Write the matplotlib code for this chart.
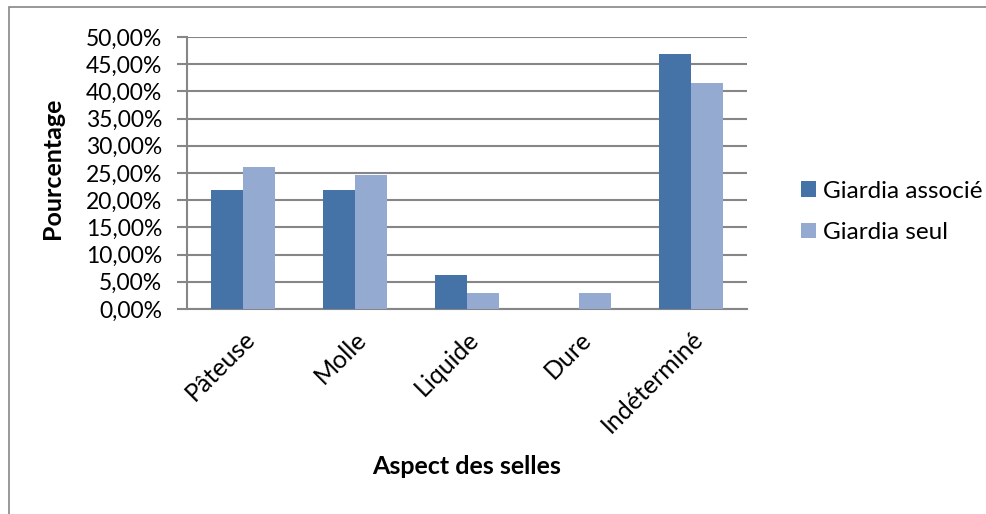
import matplotlib
matplotlib.use("Agg")
import matplotlib.pyplot as plt
import numpy as np
from matplotlib.patches import Rectangle
from matplotlib.ticker import FuncFormatter

categories = ["Pâteuse", "Molle", "Liquide", "Dure", "Indéterminé"]
giardia_associe = [21.88, 21.88, 6.25, 0.0, 46.88]
giardia_seul = [26.1, 24.6, 3.0, 3.0, 41.5]
series_names = ["Giardia associé", "Giardia seul"]
yticks = [0, 5, 10, 15, 20, 25, 30, 35, 40, 45, 50]

plt.rcParams['font.family'] = ['Lato', 'DejaVu Sans']

W, H = 987, 514
fig = plt.figure(figsize=(W/100, H/100), dpi=100)
ax = fig.add_axes([187/W, 1-309/H, (747-187)/W, (309-37)/H])

x = np.arange(len(categories))
bw = 0.286
c1 = "#4573A7"
c2 = "#95AAD1"
ax.bar(x - bw/2, giardia_associe, bw, color=c1, label=series_names[0], zorder=3)
ax.bar(x + bw/2, giardia_seul, bw, color=c2, label=series_names[1], zorder=3)

ax.set_xlim(-0.5, len(categories)-0.5)
ax.set_ylim(0, 50)
ax.set_yticks(yticks)
ax.yaxis.set_major_formatter(FuncFormatter(lambda v, p: f"{v:.2f}%".replace('.', ',')))
ax.grid(axis='y', color='#868686', linewidth=1.5, zorder=0)
for s in ['top', 'right']:
    ax.spines[s].set_visible(False)
for s in ['left', 'bottom']:
    ax.spines[s].set_color('#868686')
    ax.spines[s].set_linewidth(1.5)
ax.tick_params(axis='y', length=7, width=1.5, color='#868686', labelsize=16.5, pad=11)
ax.tick_params(axis='x', length=0, labelsize=18, pad=13)
ax.set_xticks(x)
ax.set_xticklabels(categories, rotation=45, ha='right', rotation_mode='anchor')

fig.text(52/W, 1-168/H, "Pourcentage", fontsize=18, fontweight='bold', ha='center', va='center', rotation=90)
fig.text(467/W, 1-467/H, "Aspect des selles", fontsize=18, fontweight='bold', ha='center', va='center')

leg = ax.legend(loc='center left', bbox_to_anchor=(801/W, 1-212/H), bbox_transform=fig.transFigure,
                frameon=False, fontsize=17.5, handlelength=0.6, handleheight=0.6,
                handletextpad=0.3, labelspacing=0.85, borderaxespad=0, borderpad=0)

fig.patches.append(Rectangle((9/W, -0.05), 1.2, 1-7/H+0.05, transform=fig.transFigure,
                             fill=False, edgecolor='#868686', linewidth=1.2))

fig.savefig("out.png", dpi=100)
